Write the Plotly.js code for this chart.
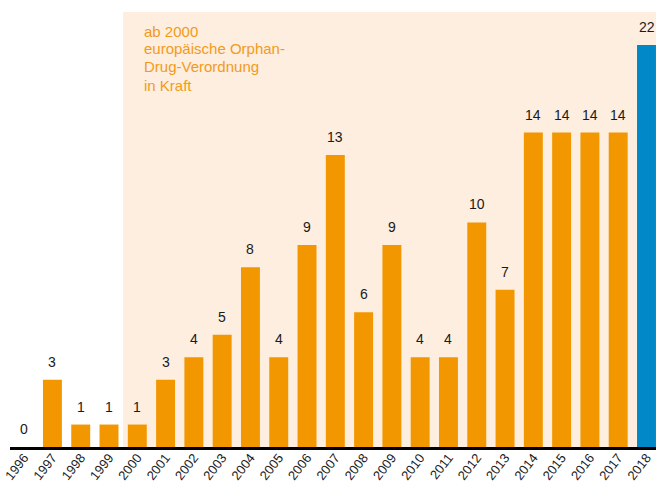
<!DOCTYPE html>
<html>
<head>
<meta charset="utf-8">
<script src="https://cdn.plot.ly/plotly-3.0.1.min.js"></script>
<style>html,body{margin:0;padding:0;background:#fff;}#chart{width:656px;height:483px;}</style>
</head>
<body>
<div id="chart"></div>
<script>
var years = ['1996','1997','1998','1999','2000','2001','2002','2003','2004','2005','2006','2007','2008','2009','2010','2011','2012','2013','2014','2015','2016','2017','2018'];
var counts = [0,3,1,1,1,3,4,5,8,4,9,13,6,9,4,4,10,7,14,14,14,14,22];
var barColors = counts.map(function(v,i){ return i === counts.length-1 ? '#0088C9' : '#F39700'; });
var noteLines = ['ab 2000','europäische Orphan-','Drug-Verordnung','in Kraft'];

var yMax = 17.9;
var plotH = 402;
var xIdx = years.map(function(y,i){ return i; });

var anns = counts.map(function(v,i){
  return {
    x: i, y: Math.min(v, yMax), xref: 'x', yref: 'y',
    text: String(v), showarrow: false, yanchor: 'middle', yshift: 18,
    font: {family: 'Liberation Sans, Arial, sans-serif', size: 14, color: '#1a1a1a'}
  };
});

noteLines.forEach(function(t, k){
  anns.push({
    x: 3.5, xref: 'x', xanchor: 'left', xshift: 19,
    y: 1 + (14 - 18 * k) / plotH, yref: 'paper', yanchor: 'middle',
    text: t, align: 'left', showarrow: false,
    font: {family: 'Liberation Sans, Arial, sans-serif', size: 15, color: '#F39A1B'}
  });
});

var data = [{
  type: 'bar', x: xIdx, y: counts,
  marker: {color: barColors, line: {width: 0}},
  width: 0.67, hoverinfo: 'none'
}];

var layout = {
  width: 656, height: 483,
  margin: {l: 10, r: 0, t: 45, b: 36, pad: 0},
  paper_bgcolor: '#ffffff', plot_bgcolor: 'rgba(0,0,0,0)',
  showlegend: false,
  font: {family: 'Liberation Sans, Arial, sans-serif', color: '#1a1a1a'},
  xaxis: {
    range: [-0.5, 22.336], tickmode: 'array', tickvals: xIdx, ticktext: years,
    tickangle: -52, tickfont: {size: 13, color: '#1a1a1a'}, ticklabelstandoff: -5,
    showline: true, linecolor: '#000000', linewidth: 3, ticks: '', showgrid: false, zeroline: false,
    automargin: false
  },
  yaxis: {range: [0, yMax], visible: false, showgrid: false, zeroline: false},
  shapes: [{
    type: 'rect', xref: 'x', yref: 'paper', x0: 3.5, x1: 22.336, y0: 0, y1: 1.082,
    fillcolor: '#FDEEDF', line: {width: 0}, layer: 'below'
  }],
  annotations: anns
};

Plotly.newPlot('chart', data, layout, {displayModeBar: false, staticPlot: true});
</script>
</body>
</html>
